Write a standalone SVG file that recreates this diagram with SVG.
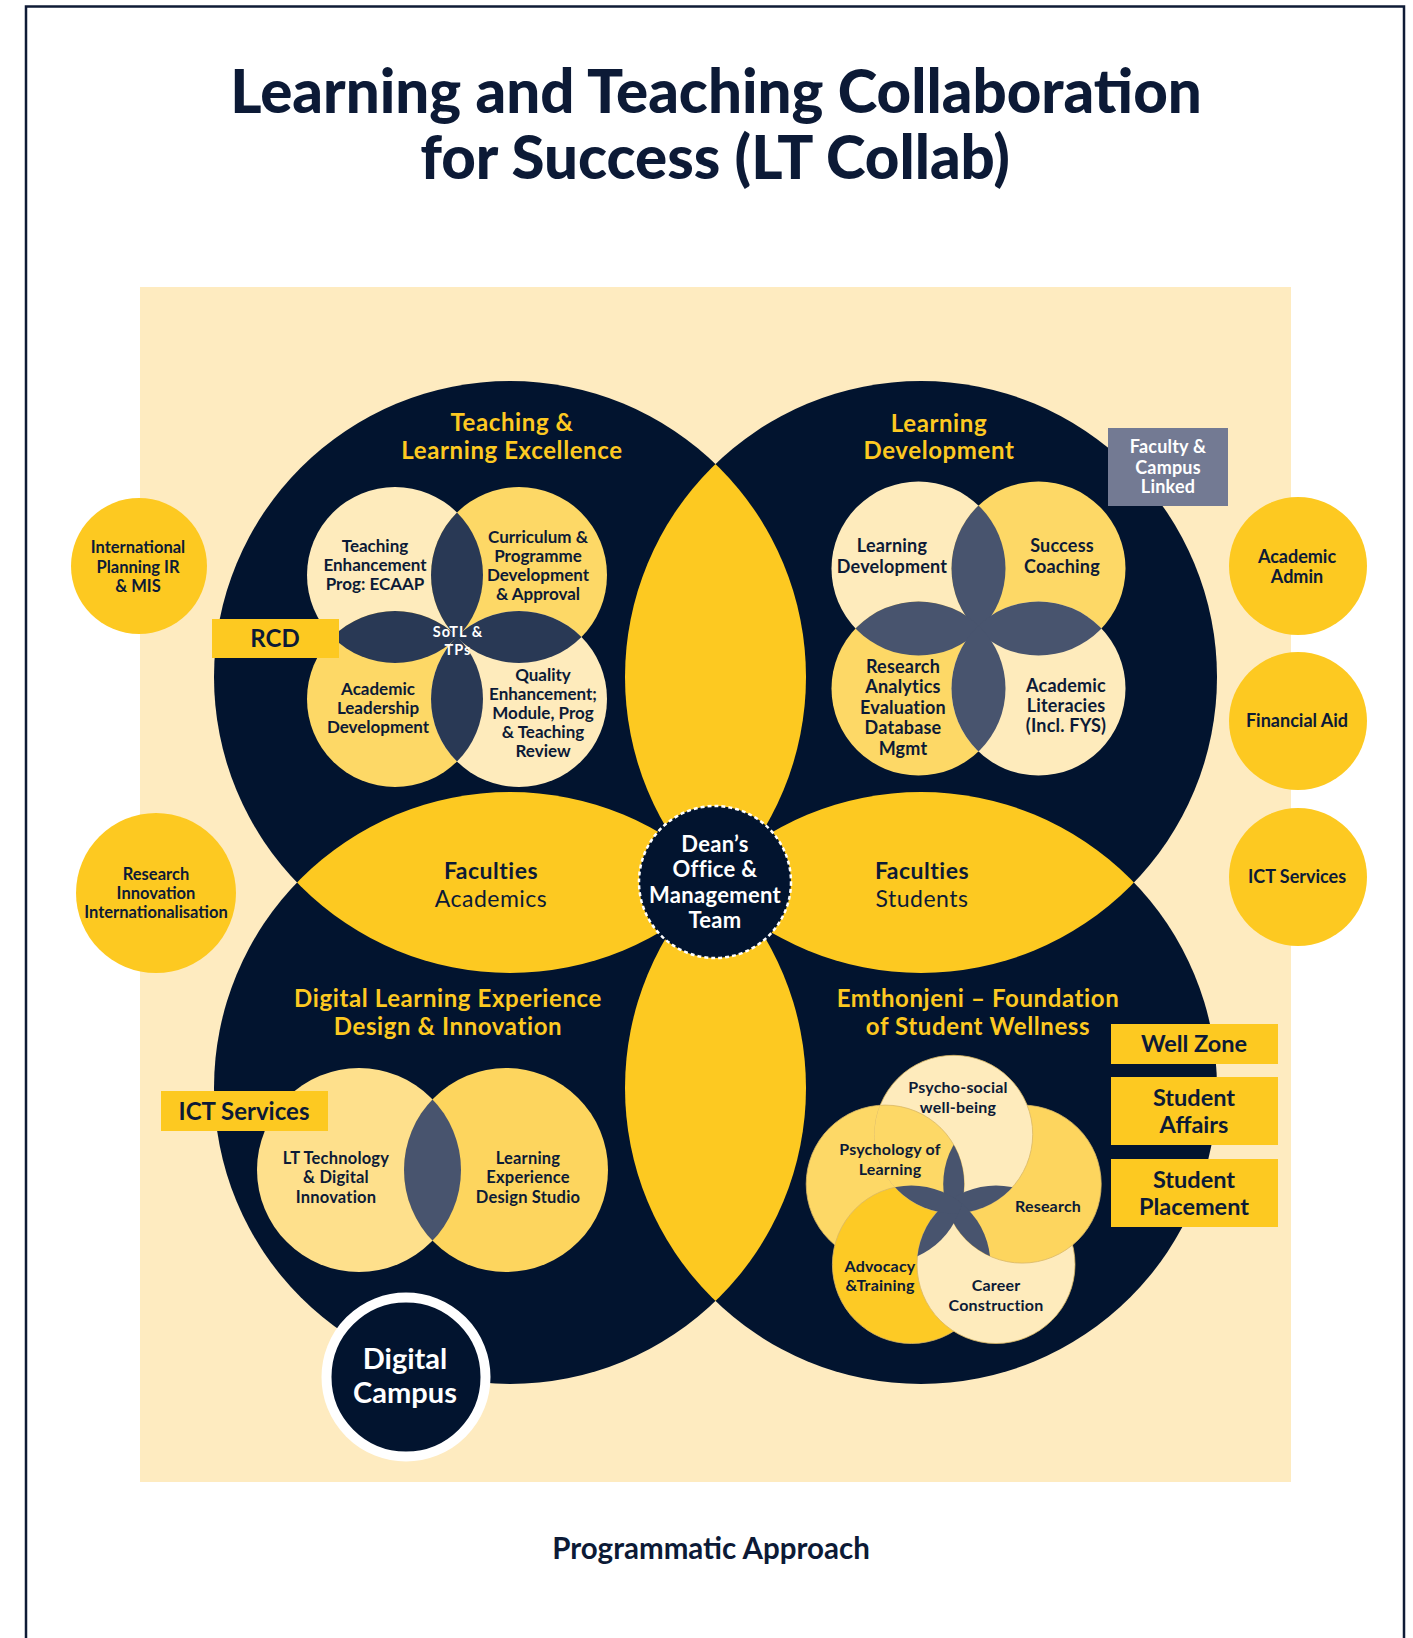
<svg xmlns="http://www.w3.org/2000/svg" width="1413" height="1638" viewBox="0 0 1413 1638">
<style>
text{font-family:Lato,"Liberation Sans",sans-serif;text-anchor:middle;font-weight:700}
.n{fill:#0c1a36}
.w{fill:#ffffff}
.y{fill:#fdc921}
.reg{font-weight:400}
.ttl{font-size:60px;font-weight:900;fill:#0c1a36}
.qt{font-size:24px;letter-spacing:0.6px}
.fac{font-size:23px;letter-spacing:0.5px}
.dean{font-size:22px;letter-spacing:0.3px}
.m1{font-size:17px}
.sotl{font-size:14.5px;letter-spacing:1px}
.m2{font-size:18px;letter-spacing:0.2px}
.m3{font-size:16.5px;letter-spacing:0.2px}
.m4{font-size:16px;letter-spacing:0.2px}
.sidel{font-size:16.5px}
.sider{font-size:18px}
.lab{font-size:23.5px}
.navy{fill:#02142f}
.yel{fill:#fdc921}
.cream{fill:#feebbc}
.gold{fill:#fdd866}
.dk{fill:#293955}
.sl{fill:#48546e}
</style>
<defs>
<clipPath id="cTL"><circle cx="510" cy="677" r="296"/></clipPath>
<clipPath id="cBR"><circle cx="921" cy="1088" r="296"/></clipPath>
<clipPath id="a1"><circle cx="395" cy="575" r="88"/></clipPath>
<clipPath id="a4"><circle cx="519" cy="699" r="88"/></clipPath>
<clipPath id="b1"><circle cx="918.5" cy="568.5" r="87"/></clipPath>
<clipPath id="b4"><circle cx="1038.5" cy="688.5" r="87"/></clipPath>
<clipPath id="d1"><circle cx="359" cy="1170" r="102"/></clipPath>
<clipPath id="f1"><circle cx="953.7" cy="1134.3" r="79"/></clipPath>
<clipPath id="f2"><circle cx="1022.2" cy="1184.1" r="79"/></clipPath>
<clipPath id="f3"><circle cx="996" cy="1264.5" r="79"/></clipPath>
<clipPath id="f4"><circle cx="911.4" cy="1264.5" r="79"/></clipPath>
<clipPath id="f5"><circle cx="885.2" cy="1184.1" r="79"/></clipPath>
</defs>

<rect x="0" y="0" width="1413" height="1638" fill="#ffffff"/>
<rect x="26" y="6.5" width="1378" height="1700" fill="#ffffff" stroke="#0f1b36" stroke-width="2.5"/>

<g id="title">
<text class="ttl" x="716" y="113">Learning and Teaching Collaboration</text>
<text class="ttl" x="715" y="179">for Success (LT Collab)</text>
</g>

<rect id="panel" x="140" y="287" width="1151" height="1195" fill="#feebc0"/>

<g id="big-circles">
<circle class="navy" cx="510" cy="677" r="296"/>
<circle class="navy" cx="921" cy="677" r="296"/>
<circle class="navy" cx="510" cy="1088" r="296"/>
<circle class="navy" cx="921" cy="1088" r="296"/>
<g clip-path="url(#cTL)"><circle class="yel" cx="921" cy="677" r="296"/><circle class="yel" cx="510" cy="1088" r="296"/></g>
<g clip-path="url(#cBR)"><circle class="yel" cx="921" cy="677" r="296"/><circle class="yel" cx="510" cy="1088" r="296"/></g>
</g>

<g id="faculties-academics">
<text class="n fac" x="491" y="879">Faculties</text>
<text class="n fac reg" x="491" y="907">Academics</text>
</g>
<g id="faculties-students">
<text class="n fac" x="922" y="879">Faculties</text>
<text class="n fac reg" x="922" y="907">Students</text>
</g>

<g id="deans-office">
<circle cx="715" cy="882" r="76" fill="#02142f" stroke="#ffffff" stroke-width="2.5" stroke-dasharray="4 3"/>
<text class="w dean" x="715" y="852">Dean’s</text>
<text class="w dean" x="715" y="877">Office &amp;</text>
<text class="w dean" x="715" y="903">Management</text>
<text class="w dean" x="715" y="928">Team</text>
</g>

<!-- Teaching & Learning Excellence -->
<g id="tle">
<text class="y qt" x="512" y="431">Teaching &amp;</text>
<text class="y qt" x="512" y="459">Learning Excellence</text>
<circle class="cream" cx="395" cy="575" r="88"/>
<circle class="gold" cx="519" cy="575" r="88"/>
<circle class="gold" cx="395" cy="699" r="88"/>
<circle class="cream" cx="519" cy="699" r="88"/>
<g clip-path="url(#a1)"><circle class="dk" cx="519" cy="575" r="88"/><circle class="dk" cx="395" cy="699" r="88"/></g>
<g clip-path="url(#a4)"><circle class="dk" cx="519" cy="575" r="88"/><circle class="dk" cx="395" cy="699" r="88"/></g>
<text class="n m1" x="375" y="552">Teaching</text>
<text class="n m1" x="375" y="571">Enhancement</text>
<text class="n m1" x="375" y="590">Prog: ECAAP</text>
<text class="n m1" x="538" y="543">Curriculum &amp;</text>
<text class="n m1" x="538" y="562">Programme</text>
<text class="n m1" x="538" y="581">Development</text>
<text class="n m1" x="538" y="600">&amp; Approval</text>
<text class="n m1" x="378" y="695">Academic</text>
<text class="n m1" x="378" y="714">Leadership</text>
<text class="n m1" x="378" y="733">Development</text>
<text class="n m1" x="543" y="681">Quality</text>
<text class="n m1" x="543" y="700">Enhancement;</text>
<text class="n m1" x="543" y="719">Module, Prog</text>
<text class="n m1" x="543" y="738">&amp; Teaching</text>
<text class="n m1" x="543" y="757">Review</text>
<text class="w sotl" x="458" y="637">SoTL &amp;</text>
<text class="w sotl" x="458" y="655">TPs</text>
</g>
<g id="rcd">
<rect class="yel" x="212" y="619" width="127" height="39"/>
<text class="n" x="275" y="647" font-size="24">RCD</text>
</g>

<!-- Learning Development -->
<g id="ld">
<text class="y qt" x="939" y="432">Learning</text>
<text class="y qt" x="939" y="459">Development</text>
<circle class="cream" cx="918.5" cy="568.5" r="87"/>
<circle class="gold" cx="1038.5" cy="568.5" r="87"/>
<circle class="gold" cx="918.5" cy="688.5" r="87"/>
<circle class="cream" cx="1038.5" cy="688.5" r="87"/>
<g clip-path="url(#b1)"><circle class="sl" cx="1038.5" cy="568.5" r="87"/><circle class="sl" cx="918.5" cy="688.5" r="87"/></g>
<g clip-path="url(#b4)"><circle class="sl" cx="1038.5" cy="568.5" r="87"/><circle class="sl" cx="918.5" cy="688.5" r="87"/></g>
<text class="n m2" x="892" y="552">Learning</text>
<text class="n m2" x="892" y="573">Development</text>
<text class="n m2" x="1062" y="552">Success</text>
<text class="n m2" x="1062" y="573">Coaching</text>
<text class="n m2" x="903" y="673">Research</text>
<text class="n m2" x="903" y="693">Analytics</text>
<text class="n m2" x="903" y="714">Evaluation</text>
<text class="n m2" x="903" y="734">Database</text>
<text class="n m2" x="903" y="755">Mgmt</text>
<text class="n m2" x="1066" y="692">Academic</text>
<text class="n m2" x="1066" y="712">Literacies</text>
<text class="n m2" x="1066" y="732">(Incl. FYS)</text>
</g>
<g id="faculty-campus">
<rect x="1108" y="428" width="120" height="78" fill="#737a93"/>
<text class="w m2" x="1168" y="453">Faculty &amp;</text>
<text class="w m2" x="1168" y="474">Campus</text>
<text class="w m2" x="1168" y="493">Linked</text>
</g>

<!-- Digital Learning -->
<g id="dlx">
<text class="y qt" x="448" y="1007">Digital Learning Experience</text>
<text class="y qt" x="448" y="1035">Design &amp; Innovation</text>
<circle cx="359" cy="1170" r="102" fill="#fee08c"/>
<circle cx="506" cy="1170" r="102" fill="#fdd55e"/>
<circle class="sl" cx="506" cy="1170" r="102" clip-path="url(#d1)"/>
<text class="n m3" x="336" y="1164">LT Technology</text>
<text class="n m3" x="336" y="1183">&amp; Digital</text>
<text class="n m3" x="336" y="1203">Innovation</text>
<text class="n m3" x="528" y="1164">Learning</text>
<text class="n m3" x="528" y="1183">Experience</text>
<text class="n m3" x="528" y="1203">Design Studio</text>
</g>
<g id="ict-box">
<rect class="yel" x="161" y="1091" width="167" height="40"/>
<text class="n" x="244" y="1120" font-size="24">ICT Services</text>
</g>
<g id="digital-campus">
<circle cx="406" cy="1377" r="79.5" fill="#02142f" stroke="#ffffff" stroke-width="10"/>
<text class="w" x="405" y="1369" font-size="29">Digital</text>
<text class="w" x="405" y="1403" font-size="29">Campus</text>
</g>

<!-- Emthonjeni -->
<g id="emthonjeni">
<text class="y qt" x="978" y="1007">Emthonjeni – Foundation</text>
<text class="y qt" x="978" y="1035">of Student Wellness</text>
<g stroke="#d9b865" stroke-width="0.8">
<circle cx="885.2" cy="1184.1" r="79" fill="#fdd866"/>
<circle cx="911.4" cy="1264.5" r="79" fill="#fdca25"/>
<circle cx="996" cy="1264.5" r="79" fill="#feebbc"/>
<circle cx="1022.2" cy="1184.1" r="79" fill="#fdd55e"/>
<circle cx="953.7" cy="1134.3" r="79" fill="#feebbc"/>
<circle cx="885.2" cy="1184.1" r="79" fill="#fdd866" clip-path="url(#f1)"/>
</g>
<g class="sl">
<g clip-path="url(#f5)"><circle cx="953.7" cy="1134.3" r="79" clip-path="url(#f2)"/></g>
<g clip-path="url(#f1)"><circle cx="1022.2" cy="1184.1" r="79" clip-path="url(#f3)"/></g>
<g clip-path="url(#f2)"><circle cx="996" cy="1264.5" r="79" clip-path="url(#f4)"/></g>
<g clip-path="url(#f3)"><circle cx="911.4" cy="1264.5" r="79" clip-path="url(#f5)"/></g>
<g clip-path="url(#f4)"><circle cx="885.2" cy="1184.1" r="79" clip-path="url(#f1)"/></g>
</g>
<text class="n m4" x="958" y="1093">Psycho-social</text>
<text class="n m4" x="958" y="1113">well-being</text>
<text class="n m4" x="890" y="1155">Psychology of</text>
<text class="n m4" x="890" y="1175">Learning</text>
<text class="n m4" x="1048" y="1212">Research</text>
<text class="n m4" x="880" y="1272">Advocacy</text>
<text class="n m4" x="880" y="1291">&amp;Training</text>
<text class="n m4" x="996" y="1291">Career</text>
<text class="n m4" x="996" y="1311">Construction</text>
</g>
<g id="well-zone">
<rect class="yel" x="1111" y="1024" width="167" height="40"/>
<text class="n lab" x="1194" y="1052">Well Zone</text>
</g>
<g id="student-affairs">
<rect class="yel" x="1111" y="1077" width="167" height="68"/>
<text class="n lab" x="1194" y="1106">Student</text>
<text class="n lab" x="1194" y="1133">Affairs</text>
</g>
<g id="student-placement">
<rect class="yel" x="1111" y="1159" width="167" height="68"/>
<text class="n lab" x="1194" y="1188">Student</text>
<text class="n lab" x="1194" y="1215">Placement</text>
</g>

<!-- side circles -->
<g id="intl-planning">
<circle class="yel" cx="139" cy="566" r="68"/>
<text class="n sidel" x="138" y="553">International</text>
<text class="n sidel" x="138" y="573">Planning IR</text>
<text class="n sidel" x="138" y="592">&amp; MIS</text>
</g>
<g id="research-innovation">
<circle class="yel" cx="156" cy="893" r="80"/>
<text class="n sidel" x="156" y="880">Research</text>
<text class="n sidel" x="156" y="899">Innovation</text>
<text class="n sidel" x="156" y="918">Internationalisation</text>
</g>
<g id="academic-admin">
<circle class="yel" cx="1298" cy="566" r="69"/>
<text class="n sider" x="1297" y="563">Academic</text>
<text class="n sider" x="1297" y="583">Admin</text>
</g>
<g id="financial-aid">
<circle class="yel" cx="1298" cy="721" r="69"/>
<text class="n sider" x="1297" y="727">Financial Aid</text>
</g>
<g id="ict-services">
<circle class="yel" cx="1298" cy="877" r="69"/>
<text class="n sider" x="1297" y="883">ICT Services</text>
</g>

<text id="footer" class="n" x="711" y="1559" font-size="29.5">Programmatic Approach</text>
</svg>
